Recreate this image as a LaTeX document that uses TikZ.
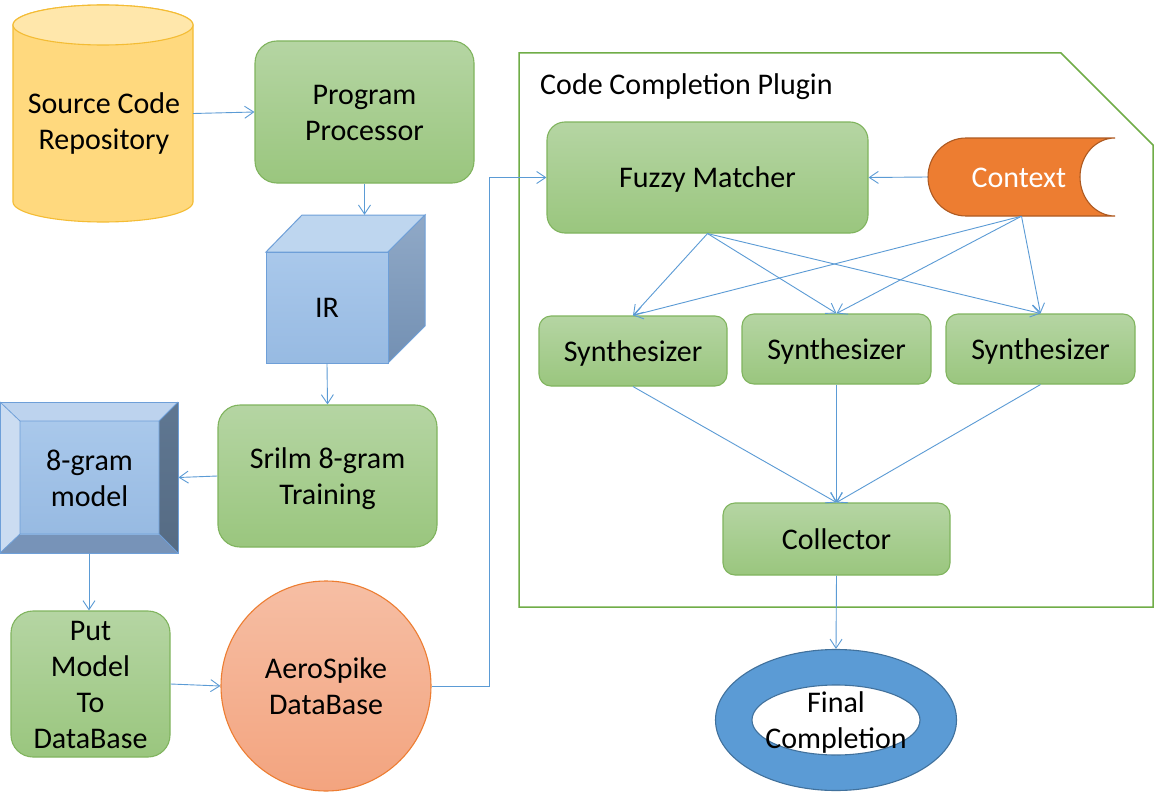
\documentclass[tikz,border=0pt]{standalone}
\usepackage{fontspec}
\setmainfont{Carlito}
\usetikzlibrary{arrows.meta,shapes.geometric}
\newcommand\mytx[1]{\rule{0pt}{27.9pt}#1\rule[-7.5pt]{0pt}{7.5pt}}
\definecolor{gtop}{HTML}{B5D5A3}
\definecolor{gbot}{HTML}{9AC67E}
\definecolor{gline}{HTML}{80B45E}
\definecolor{arblue}{HTML}{5B9BD5}
\definecolor{frgreen}{HTML}{70AD47}
\definecolor{cylbody}{HTML}{FFD97E}
\definecolor{cyltop}{HTML}{FFE7AB}
\definecolor{cylline}{HTML}{F4BC34}
\definecolor{bline}{HTML}{6E9FD8}
\definecolor{ftop}{HTML}{A9C8EB}
\definecolor{fbot}{HTML}{97BAE2}
\definecolor{ctop}{HTML}{BED6EF}
\definecolor{stop}{HTML}{90A9C7}
\definecolor{sbot}{HTML}{7390B3}
\definecolor{bvtop}{HTML}{BDD3EE}
\definecolor{bvleft}{HTML}{CBDCF1}
\definecolor{bvright}{HTML}{5F7792}
\definecolor{bvbot}{HTML}{7793B8}
\definecolor{atop}{HTML}{F6BEA4}
\definecolor{abot}{HTML}{F3A47F}
\definecolor{aline}{HTML}{ED7D31}
\definecolor{ctxfill}{HTML}{ED7D31}
\definecolor{ctxline}{HTML}{AE5A21}
\definecolor{dfill}{HTML}{5B9BD5}
\definecolor{dline}{HTML}{41719C}
\begin{document}
\begin{tikzpicture}[x=1pt,y=-1pt,
  every node/.style={font=\fontsize{30}{36}\selectfont, align=center, inner sep=0pt},
  gbox/.style={draw=gline, line width=1.1pt, rounded corners=#1, top color=gtop, bottom color=gbot},
  gbox/.default=20pt,
  arr/.style={draw=arblue, line width=0.9pt, -{Straight Barb[length=9pt,width=12pt]}},
  blank/.style={draw=none, fill=none}]
\useasboundingbox (0,0) rectangle (1154,792);
\fill[white] (0,0) rectangle (1154,792);

% Plugin frame
\draw[frgreen, line width=1.5pt] (519,53) -- (1061,53) -- (1153,145) -- (1153,607) -- (519,607) -- cycle;
\node[anchor=base west] (plug) at (540,95) {Code Completion Plugin};

% Source code repository cylinder
\draw[cylline, line width=1.1pt, fill=cylbody] (13,25) -- (13,202)
  arc[start angle=180, end angle=360, x radius=90pt, y radius=20pt] -- (193,25)
  arc[start angle=0, end angle=180, x radius=90pt, y radius=20pt] -- cycle;
\draw[cylline, line width=1.1pt, fill=cyltop] (103,25) ellipse[x radius=90pt, y radius=20pt];
\node[blank, minimum width=180pt, minimum height=217pt] (src) at (103,113.5) {};
\node (srclabel) at (104,121) {\mytx{Source Code\\Repository}};

% Program processor
\node[gbox=22pt, minimum width=219pt, minimum height=142pt] (pp) at (364.5,112) {\mytx{Program\\Processor}};

% IR cube
\fill[ctop, draw=bline, line width=1pt] (266,252) -- (302,215) -- (425,215) -- (388,252) -- cycle;
\shade[top color=stop, bottom color=sbot, draw=bline, line width=1pt] (388,252) -- (425,215) -- (425,326) -- (388,363) -- cycle;
\node[blank, minimum width=159pt, minimum height=148pt] (irbox) at (345.5,289) {};
\node[draw=bline, line width=1pt, top color=ftop, bottom color=fbot, minimum width=122pt, minimum height=111pt] (ir) at (327,307.5) {\mytx{IR}};

% Srilm
\node[gbox=22pt, minimum width=219pt, minimum height=142pt] (srilm) at (327.5,476) {\mytx{Srilm 8-gram\\Training}};

% 8-gram bevel
\fill[bvtop] (0,402) -- (178,402) -- (159,421) -- (20,421) -- cycle;
\fill[bvleft] (0,402) -- (20,421) -- (20,534) -- (0,553) -- cycle;
\shade[top color=bvright, bottom color=bvright!90!black] (178,402) -- (178,553) -- (159,534) -- (159,421) -- cycle;
\fill[bvbot] (0,553) -- (178,553) -- (159,534) -- (20,534) -- cycle;
\shade[top color=ftop, bottom color=fbot] (20,421) rectangle (159,534);
\draw[bline, line width=0.8pt] (0,402) -- (20,421) (178,402) -- (159,421) (178,553) -- (159,534) (0,553) -- (20,534) (20,421) rectangle (159,534);
\node[draw=bline, line width=1pt, minimum width=178pt, minimum height=151pt] (bev) at (89,477.5) {};
\node (bevlabel) at (89.5,477.8) {\mytx{8-gram\\model}};

% Put model
\node[gbox=22pt, minimum width=159pt, minimum height=146pt] (put) at (90.5,684) {\mytx{Put\\Model\\To\\DataBase}};

% AeroSpike
\node[circle, draw=aline, line width=1.1pt, top color=atop, bottom color=abot, minimum size=210pt] (aero) at (326,686) {\mytx{AeroSpike\\DataBase}};

% Fuzzy matcher
\node[gbox=18pt, minimum width=321pt, minimum height=111pt] (fuzzy) at (707.5,177.5) {\mytx{Fuzzy Matcher}};

% Context
\draw[ctxline, line width=1.1pt, fill=ctxfill] (1115,138) -- (966,138)
  arc[start angle=90, end angle=270, x radius=38pt, y radius=39pt] -- (1115,216)
  arc[start angle=270, end angle=90, x radius=35pt, y radius=39pt] -- cycle;
\node[blank, minimum width=187pt, minimum height=78pt] (ctx) at (1021.5,177) {};
\node[text=white] (ctxlabel) at (1019,177.5) {\mytx{Context}};

% Synthesizers
\node[gbox=12pt, minimum width=188pt, minimum height=70pt] (s1) at (633,351) {\mytx{Synthesizer}};
\node[gbox=12pt, minimum width=189pt, minimum height=70pt] (s2) at (836.5,349) {\mytx{Synthesizer}};
\node[gbox=12pt, minimum width=189pt, minimum height=70pt] (s3) at (1040.5,349) {\mytx{Synthesizer}};

% Collector
\node[gbox=12pt, minimum width=227pt, minimum height=72pt] (col) at (836.5,539) {\mytx{Collector}};

% Final completion donut
\node[ellipse, draw=dline, line width=1.1pt, fill=dfill, minimum width=241pt, minimum height=141pt] (fin) at (836,720) {};
\draw[dline, line width=1.1pt, fill=white] (836,720) ellipse[x radius=84pt, y radius=35pt];
\node (finlabel) at (836,720) {\mytx{Final\\Completion}};

% Connectors
\draw[arr] (src.east) -- (pp.west);
\draw[arr] (pp.south) -- (pp.south |- irbox.north);
\draw[arr] (ir.south) -- (srilm.north);
\draw[arr] (srilm.west) -- (bev.east);
\draw[arr] (bev.south) -- (bev.south |- put.north);
\draw[arr] (put.east) -- (aero.west);
\coordinate (bend) at (489,686);
\draw[arr] (aero.east) -- (bend) |- (fuzzy.west);
\draw[arr] (ctx.west) -- (fuzzy.east);
\foreach \s in {s1,s2,s3} {
  \draw[arr] (fuzzy.south) -- (\s.north);
  \draw[arr] (ctx.south) -- (\s.north);
  \draw[arr] (\s.south) -- (col.north);
}
\draw[arr] (col.south) -- (fin.north);
\end{tikzpicture}
\end{document}
